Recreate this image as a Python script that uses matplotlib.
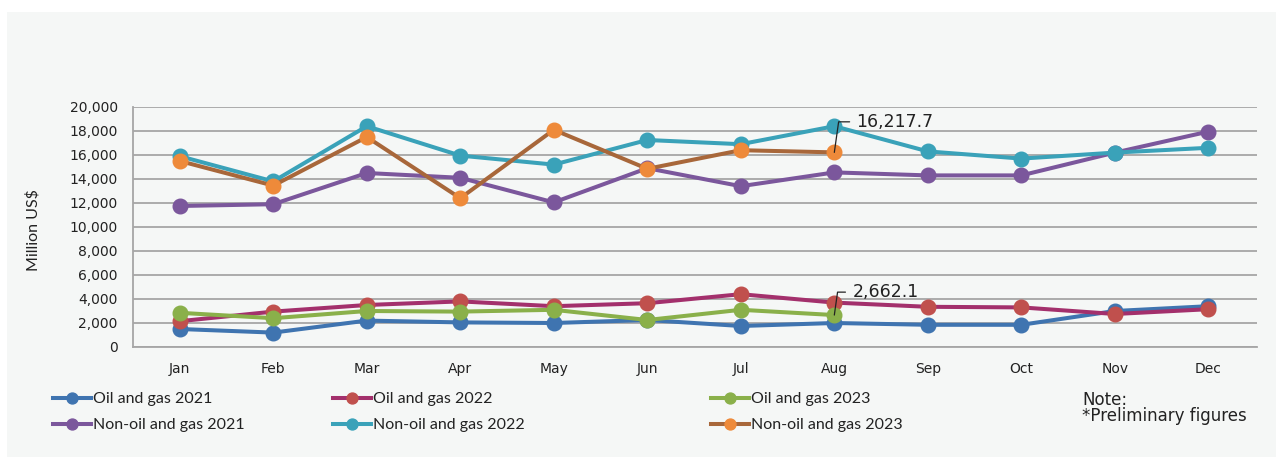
import matplotlib
matplotlib.use("Agg")
import matplotlib.pyplot as plt
from matplotlib.patches import Rectangle

plt.rcParams['font.family'] = ['Lato', 'DejaVu Sans']

months = ['Jan', 'Feb', 'Mar', 'Apr', 'May', 'Jun', 'Jul', 'Aug', 'Sep', 'Oct', 'Nov', 'Dec']

oil_2021 = [1500, 1200, 2200, 2050, 2000, 2250, 1750, 2000, 1850, 1850, 3000, 3400]
oil_2022 = [2150, 2950, 3500, 3800, 3400, 3650, 4400, 3700, 3350, 3300, 2750, 3150]
oil_2023 = [2850, 2400, 3000, 2950, 3100, 2250, 3100, 2662.1]
nonoil_2021 = [11750, 11900, 14500, 14100, 12050, 14900, 13400, 14550, 14300, 14300, 16200, 17950]
nonoil_2022 = [15900, 13800, 18400, 15950, 15200, 17250, 16900, 18400, 16300, 15700, 16200, 16600]
nonoil_2023 = [15500, 13450, 17500, 12400, 18100, 14850, 16400, 16217.7]

# (label, values, line colour, marker colour)
series = [
    ('Oil and gas 2021', oil_2021, '#3f74b0', '#3f74b0'),
    ('Oil and gas 2022', oil_2022, '#a3306c', '#c0504d'),
    ('Oil and gas 2023', oil_2023, '#8ab04a', '#8ab04a'),
    ('Non-oil and gas 2021', nonoil_2021, '#7b579c', '#7b579c'),
    ('Non-oil and gas 2022', nonoil_2022, '#3aa2b9', '#3aa2b9'),
    ('Non-oil and gas 2023', nonoil_2023, '#a8673a', '#ee8a3a'),
]

bg = '#f5f7f6'
txt = '#222222'
wide = ['DejaVu Sans']
W, H = 1276, 457

fig = plt.figure(figsize=(12.76, 4.57), dpi=100, facecolor='white')
# light panel behind the chart, with a thin white margin at top and left
fig.patches.append(Rectangle((7 / W, 0), 1, 1 - 12 / H, transform=fig.transFigure,
                             facecolor=bg, edgecolor='none', zorder=-1))

ax = fig.add_axes([133 / W, 110 / H, 1124 / W, 240 / H])
ax.set_facecolor(bg)
ax.set_zorder(1)

handles = []
for label, vals, lc, mc in series:
    h, = ax.plot(range(len(vals)), vals, color=lc, lw=2.9, marker='o', ms=10.5,
                 mfc=mc, mec=mc, label=label, zorder=3)
    handles.append(h)

ax.set_xlim(-0.5, 11.52)
ax.set_ylim(0, 20000)
ax.set_yticks(range(0, 20001, 2000))
ax.set_yticklabels(['{:,}'.format(v) for v in range(0, 20001, 2000)], family=wide)
ax.set_xticks(range(12))
ax.set_xticklabels(months, family=wide)
ax.tick_params(axis='both', length=0, labelsize=10, colors=txt)
ax.tick_params(axis='x', pad=11)
ax.tick_params(axis='y', pad=11)
ax.grid(axis='y', color='#a6a6a6', lw=1.3, zorder=0)
for s in ['top', 'right']:
    ax.spines[s].set_visible(False)
for s in ['left', 'bottom']:
    ax.spines[s].set_color('#a6a6a6')
    ax.spines[s].set_linewidth(1.3)

fig.text(33 / W, 227 / H, 'Million US$', rotation=90, fontsize=11.5, color=txt,
         ha='center', va='center')

# data labels for the latest (preliminary) values
for vals, dx, dy in [(nonoil_2023, 16, 22), (oil_2023, 13, 16.5)]:
    v = vals[-1]
    ax.annotate('{:,.1f}'.format(v), xy=(7, v), xytext=(dx, dy), textcoords='offset points',
                fontsize=12.5, family=wide, color=txt, va='center', ha='left',
                arrowprops=dict(arrowstyle='-', color=txt, lw=0.9, shrinkA=3, shrinkB=0,
                                connectionstyle='angle,angleA=0,angleB=82,rad=0'))

# legend: three columns of two rows, placed separately
cols = [(0, 3), (1, 4), (2, 5)]
col_x = [53, 333, 711]
for (i, j), x in zip(cols, col_x):
    leg = fig.legend([handles[i], handles[j]], [series[i][0], series[j][0]],
                     loc='upper left', bbox_to_anchor=(x / W, 1 - 392 / H),
                     frameon=False, fontsize=11.5, handlelength=2.4, handletextpad=0.1,
                     labelspacing=0.75, borderaxespad=0, borderpad=0, markerscale=0.75)
    for t in leg.get_texts():
        t.set_color(txt)

fig.text(1082 / W, 1 - 408 / H, 'Note:\n*Preliminary figures', fontsize=12,
         family=wide, color=txt, va='center', ha='left', linespacing=0.9)

fig.savefig('out.png', dpi=100, facecolor='white')
